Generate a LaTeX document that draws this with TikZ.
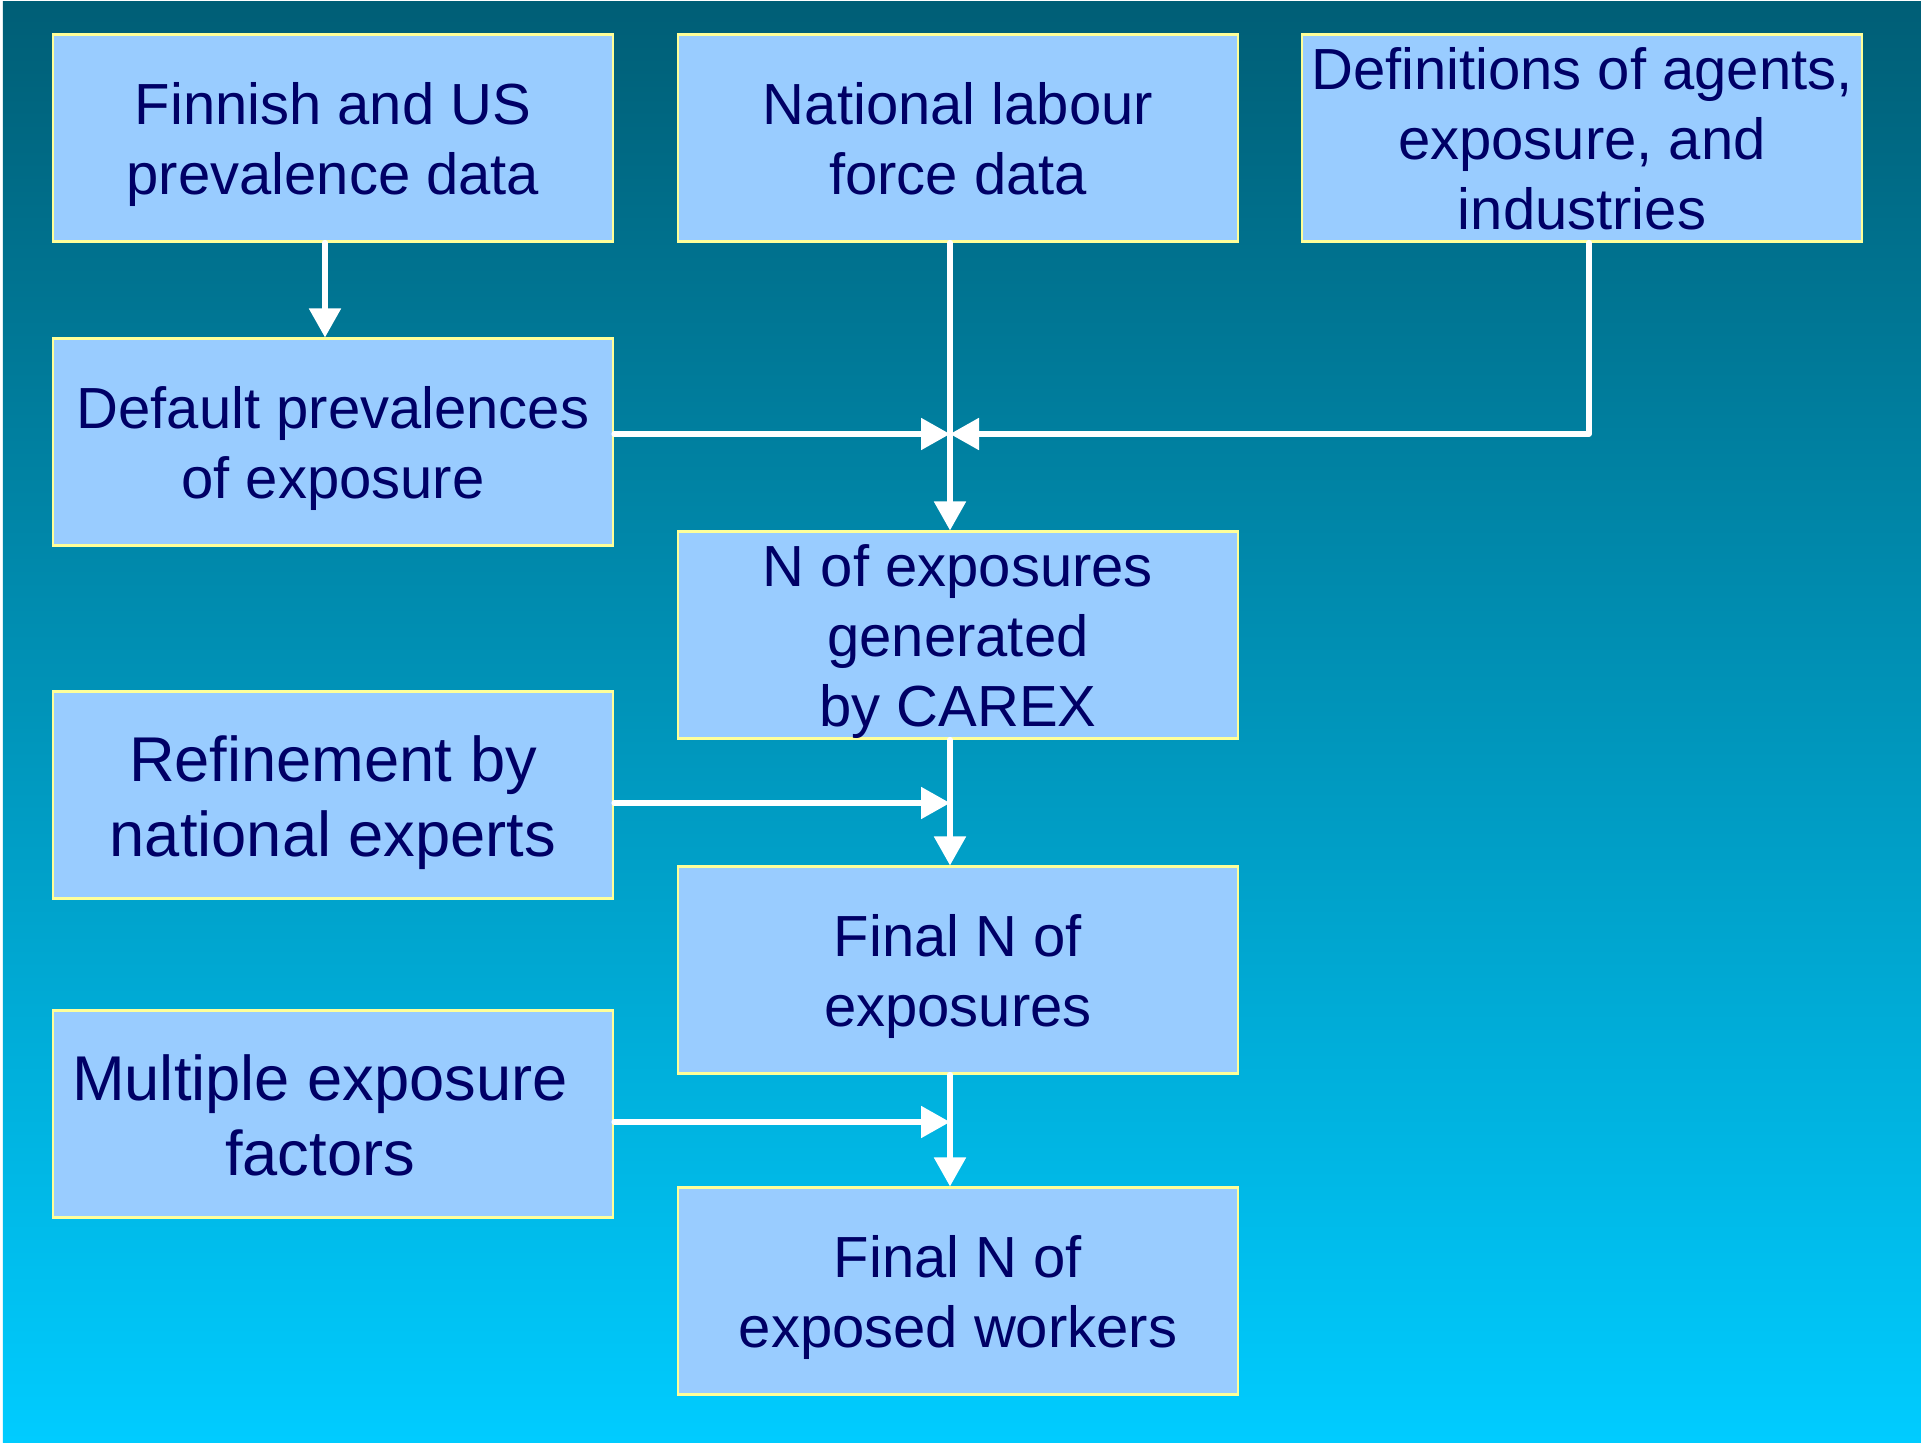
\documentclass[tikz,border=0pt]{standalone}
\usepackage{fontspec}
\setmainfont{Liberation Sans}
\usepackage{xcolor}
\usetikzlibrary{arrows.meta,positioning,calc}
\definecolor{bgTop}{HTML}{005E76}
\definecolor{bgBot}{HTML}{00CCFF}
\definecolor{boxFill}{HTML}{99CCFF}
\definecolor{boxLine}{HTML}{FFFF99}
\definecolor{txtNavy}{HTML}{000066}

\begin{document}
\begin{tikzpicture}[
  box/.style={draw=boxLine,line width=0.6pt,fill=boxFill,text=txtNavy,
    minimum width=5.6cm,minimum height=2.07cm,inner sep=0pt,align=center,
    font=\fontsize{16.5}{19.9}\selectfont,text height=35.6pt,text depth=3.3pt},
  tall/.style={text height=55.5pt},
  bigbox/.style={box,font=\fontsize{18}{21.4}\selectfont,text height=38.5pt,text depth=3.6pt},
  flow/.style={draw=white,line width=1.5pt,line cap=round,line join=round,
    -{Triangle[length=0.29cm,width=0.31cm]}}]
  % background
  \fill[white] (0,0) rectangle (19.21,14.42);
  \shade[top color=bgTop,bottom color=bgBot] (0.03,0) rectangle (19.21,14.40);
  \useasboundingbox (0,0) rectangle (19.21,14.42);

  % top row: input data
  \node[box] (finus) at (3.33,13.04) {Finnish and US\\prevalence data};
  \node[box] (natlab) at (9.58,13.04) {National labour\\force data};
  \node[box,tall] (defs) at (15.82,13.04) {Definitions of agents,\\exposure, and\\industries};

  % left column
  \node[box] (defprev) at (3.33,10.00) {Default prevalences\\of exposure};
  \node[bigbox] (refine) at (3.33,6.47) {Refinement by\\national experts};
  \node[bigbox] (multi) at (3.33,3.28) {Multiple exposure\hspace*{0.26cm}\\factors\hspace*{0.26cm}};

  % middle column: results
  \node[box,tall] (carex) at (9.58,8.07) {N of exposures\\generated\\by CAREX};
  \node[box] (finexp) at (9.58,4.72) {Final N of\\exposures};
  \node[box] (finwork) at (9.58,1.51) {Final N of\\exposed workers};

  % connectors
  \coordinate (spine) at (9.50,0);
  \draw[flow] ($(finus.south)+(-0.08,0)$) -- ($(defprev.north)+(-0.08,0)$);
  \draw[flow] (natlab.south -| spine) -- (carex.north -| spine);
  \draw[flow] ($(defprev.east)+(0,0.08)$) coordinate (dpout) -- (dpout -| spine);
  \draw[flow] ($(defs.south)+(0.07,0)$) |- (dpout -| spine);
  \draw[flow] (carex.south -| spine) -- (finexp.north -| spine);
  \draw[flow] (finexp.south -| spine) -- (finwork.north -| spine);
  \foreach \src in {refine,multi}{
    \draw[flow] ($(\src.east)+(0,-0.08)$) coordinate (feed) -- (feed -| spine);
  }
\end{tikzpicture}
\end{document}
